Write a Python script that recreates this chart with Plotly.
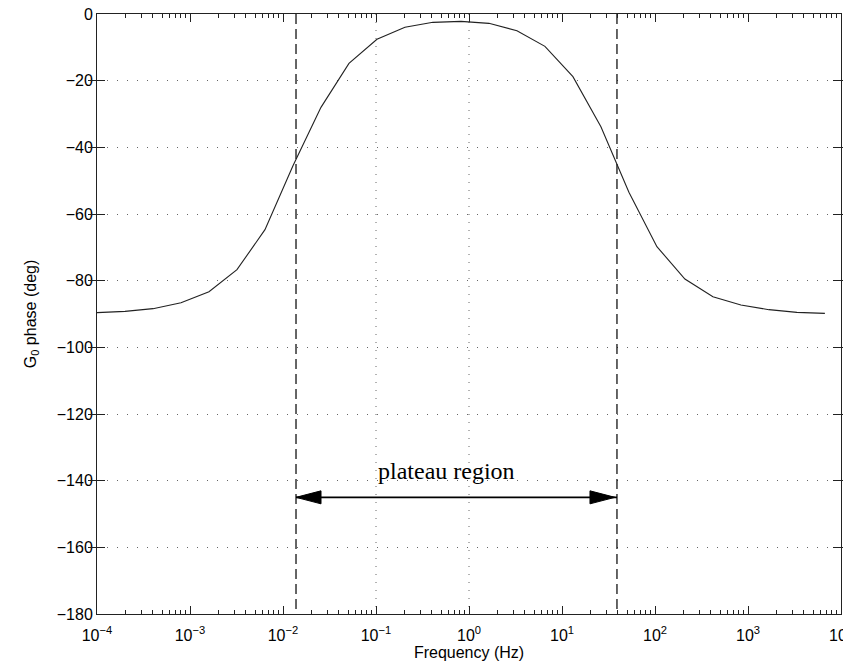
import numpy as np
import plotly.graph_objects as go

# frequency points (Hz) and phase (deg)
freq = [1e-4, 2e-4, 4e-4, 8e-4, 1.6e-3, 3.2e-3, 6.4e-3, 0.0128, 0.0256, 0.0512,
        0.1024, 0.2048, 0.4096, 0.8192, 1.6384, 3.2768, 6.5536, 13.107, 26.214,
        52.429, 104.86, 209.72, 419.43, 838.86, 1677.7, 3355.4, 6710.9]
phase = [-89.6, -89.2, -88.4, -86.6, -83.3, -76.7, -64.7, -45.5, -28.0, -14.8,
         -7.6, -4.0, -2.5, -2.2, -2.8, -5.0, -9.7, -18.8, -33.8,
         -53.5, -69.8, -79.5, -84.8, -87.3, -88.7, -89.5, -89.8]

plateau = [0.0138, 39.0]      # dashed bounds of the plateau region
arrow_y = -145
label_text = "plateau region"
label_freq = 0.57
label_y = -137
grid_freqs = [0.1, 1.0]       # the only vertical grid lines drawn
decades = [1e-4, 1e-3, 1e-2, 1e-1, 1e0, 1e1, 1e2, 1e3, 1e4]
decade_labels = ["10<sup>\u22124</sup>", "10<sup>\u22123</sup>", "10<sup>\u22122</sup>",
                 "10<sup>\u22121</sup>", "10<sup>0</sup>", "10<sup>1</sup>",
                 "10<sup>2</sup>", "10<sup>3</sup>", "10<sup>4</sup>"]

minor_vals = [m * d for d in decades[:-1] for m in range(2, 10)]

FONT = "Liberation Sans, Arial, sans-serif"

fig = go.Figure()

# vertical dotted grid lines
for g in grid_freqs:
    fig.add_trace(go.Scatter(x=[g, g], y=[0, -180], mode="lines",
                             line=dict(color="#666", width=1, dash="1px,7px"),
                             hoverinfo="skip", showlegend=False))

# dashed plateau bounds
for p in plateau:
    fig.add_trace(go.Scatter(x=[p, p], y=[0, -180], mode="lines",
                             line=dict(color="black", width=1.2, dash="10px,5px"),
                             hoverinfo="skip", showlegend=False))

# phase curve
fig.add_trace(go.Scatter(x=freq, y=phase, mode="lines",
                         line=dict(color="#222", width=1.1), showlegend=False))

# arrow shaft (on the top twin axis so that axis gets drawn)
fig.add_trace(go.Scatter(x=plateau, y=[arrow_y, arrow_y], mode="lines", xaxis="x2",
                         line=dict(color="black", width=1.6),
                         hoverinfo="skip", showlegend=False))

# arrow heads (pixel-sized triangles anchored at the bounds)
fig.add_shape(type="path", xref="x", yref="y", xsizemode="pixel", ysizemode="pixel",
              xanchor=plateau[0], yanchor=arrow_y, path="M0,0 L25,6.5 L25,-6.5 Z",
              fillcolor="black", line=dict(color="black", width=1))
fig.add_shape(type="path", xref="x", yref="y", xsizemode="pixel", ysizemode="pixel",
              xanchor=plateau[1], yanchor=arrow_y, path="M-2,0 L-27,6.5 L-27,-6.5 Z",
              fillcolor="black", line=dict(color="black", width=1))

fig.add_annotation(x=np.log10(label_freq), y=label_y, text=label_text, showarrow=False,
                   font=dict(family="Liberation Serif, Times New Roman, serif", size=24, color="black"))

fig.update_layout(
    width=851, height=664, margin=dict(l=89, r=18, t=6, b=58),
    plot_bgcolor="white", paper_bgcolor="white",
    font=dict(family=FONT, size=16, color="black"),
    xaxis=dict(type="log", range=[-4, 4], tickvals=decades, ticktext=decade_labels,
               automargin=False, ticklabeloverflow="allow", ticklabelstandoff=7,
               showgrid=False, zeroline=False, showline=True,
               linecolor="#222", linewidth=1, mirror=True,
               ticks="inside", ticklen=8, tickcolor="#222",
               minor=dict(tickvals=minor_vals, ticks="inside", ticklen=4,
                          tickcolor="#222", showgrid=False),
               tickfont=dict(family=FONT, size=16, color="black"),
               title=dict(text="Frequency (Hz)", font=dict(family=FONT, size=16, color="black"),
                          standoff=3)),
    xaxis2=dict(type="log", range=[-4, 4], overlaying="x", side="top", anchor="y",
                tickvals=decades, showticklabels=False, automargin=False,
                showgrid=False, zeroline=False, showline=False,
                ticks="inside", ticklen=8, tickcolor="#222",
                minor=dict(tickvals=minor_vals, ticks="inside", ticklen=4,
                           tickcolor="#222", showgrid=False)),
    yaxis=dict(range=[-180, 0], dtick=20, automargin=False, ticklabeloverflow="allow",
               showgrid=True, gridcolor="#666", gridwidth=1, griddash="1px,9px",
               zeroline=False, showline=True, linecolor="#222", linewidth=1,
               mirror="allticks", ticks="inside", ticklen=8, tickcolor="#222",
               tickfont=dict(family=FONT, size=16, color="black"),
               title=dict(text="G<sub>0</sub> phase (deg)",
                          font=dict(family=FONT, size=16, color="black"), standoff=16)),
)

fig.write_html("out.html")
